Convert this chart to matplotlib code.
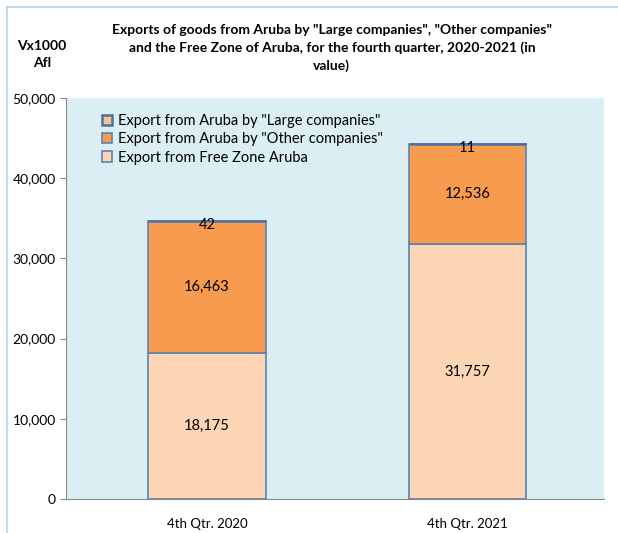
import matplotlib.pyplot as plt
import numpy as np
from matplotlib.patches import Rectangle

plt.rcParams['font.family'] = ['Lato', 'DejaVu Sans']

quarters = ['4th Qtr. 2020', '4th Qtr. 2021']
free_zone = [18175, 31757]
other_companies = [16463, 12536]
large_companies = [42, 11]

fig = plt.figure(figsize=(6.18, 5.33), dpi=100)
fig.patches.append(Rectangle((0.011, -0.01), 0.99, 0.997, transform=fig.transFigure,
                             fill=False, edgecolor='#B7D3E6', linewidth=1.2))
ax = fig.add_axes([0.107, 0.064, 0.870, 0.752])
ax.set_facecolor('#DAEEF3')

x = np.arange(len(quarters))
w = 0.45
edge = '#5B82B0'
b1 = ax.bar(x, free_zone, w, color='#FCD5B5', edgecolor=edge, linewidth=1.2,
            label='Export from Free Zone Aruba')
b2 = ax.bar(x, other_companies, w, bottom=free_zone, color='#F79B4E', edgecolor=edge,
            linewidth=1.2, label='Export from Aruba by "Other companies"')
bottom2 = np.array(free_zone) + np.array(other_companies)
b3 = ax.bar(x, large_companies, w, bottom=bottom2, color='#FAC090', edgecolor='#4A72A6',
            linewidth=1.8, label='Export from Aruba by "Large companies"')

for i in range(len(x)):
    ax.text(x[i], free_zone[i] / 2, f'{free_zone[i]:,}', ha='center', va='center', fontsize=10.5)
    ax.text(x[i], free_zone[i] + other_companies[i] / 2, f'{other_companies[i]:,}',
            ha='center', va='center', fontsize=10.5)
    ax.text(x[i], bottom2[i] + large_companies[i] - 500, f'{large_companies[i]:,}',
            ha='center', va='center', fontsize=10.5)

ax.set_xlim(-0.541, 1.524)
ax.set_ylim(0, 50000)
ax.set_yticks(np.arange(0, 50001, 10000))
ax.yaxis.set_major_formatter(plt.FuncFormatter(lambda v, p: f'{int(v):,}'))
ax.set_xticks(x)
ax.set_xticklabels(quarters, fontsize=9.5)
ax.tick_params(axis='y', labelsize=10, length=4, color='#888888')
ax.tick_params(axis='x', length=0, pad=14)
for s in ['top', 'right']:
    ax.spines[s].set_visible(False)
ax.spines['left'].set_color('#888888')
ax.spines['bottom'].set_color('#888888')

handles = [b3, b2, b1]
leg = ax.legend(handles=handles, labels=[h.get_label() for h in handles],
                loc='upper left', bbox_to_anchor=(0.055, 0.975), frameon=False,
                fontsize=10.5, handlelength=0.7, handleheight=0.7, handletextpad=0.4,
                labelspacing=0.3, borderaxespad=0)

fig.text(0.537, 0.955, 'Exports of goods from Aruba by "Large companies", "Other companies"\n'
         'and the Free Zone of Aruba, for the fourth quarter, 2020-2021 (in\nvalue)',
         ha='center', va='top', fontsize=10, fontweight='bold', linespacing=1.5)
fig.text(0.068, 0.925, 'Vx1000\nAfl', ha='center', va='top', fontsize=10,
         fontweight='bold', linespacing=1.5)

fig.savefig('out.png', dpi=100)
